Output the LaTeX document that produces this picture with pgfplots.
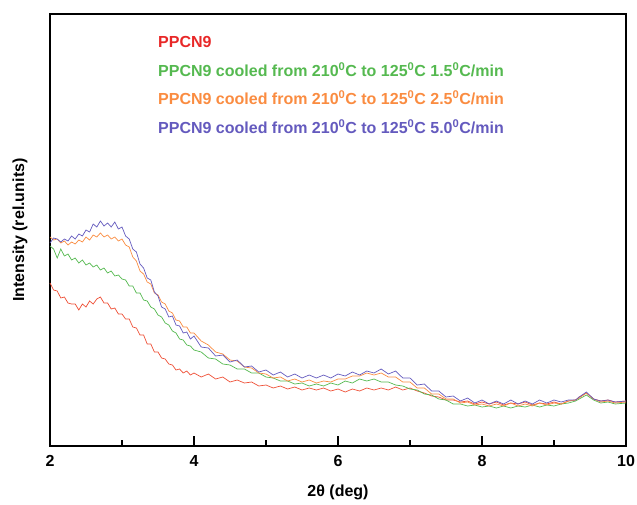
\documentclass[border=0pt]{standalone}
\usepackage{pgfplots}
\pgfplotsset{compat=1.18}
\usepackage{fontspec}
\setmainfont{Liberation Sans}
\usetikzlibrary{calc}

\definecolor{cRed}{RGB}{238,80,55}
\definecolor{tRed}{RGB}{232,40,40}
\definecolor{cGreen}{RGB}{85,185,80}
\definecolor{cOrange}{RGB}{250,140,65}
\definecolor{cBlue}{RGB}{100,90,190}

\begin{document}
\begin{tikzpicture}
\begin{axis}[
  name=ax,
  scale only axis,
  width=576pt, height=432pt,
  xmin=2, xmax=10, ymin=0, ymax=432,
  axis line style={line width=1.6pt},
  xtick={2,4,6,8,10},
  minor xtick={3,5,7,9},
  ytick=\empty,
  xtick pos=bottom,
  tick align=inside,
  major tick length=10pt,
  minor tick length=6pt,
  tick style={line width=1.4pt, black},
  /pgf/number format/assume math mode=true,
  ticklabel style={font=\bfseries\fontsize{16}{16}\selectfont},
  xticklabel style={yshift=-6pt},
  xlabel={2θ (deg)},
  ylabel={Intensity (rel.units)},
  label style={font=\bfseries\fontsize{16}{16}\selectfont},
  xlabel style={at={(axis description cs:0.5,0)}, anchor=center, yshift=-46pt},
  ylabel style={at={(axis description cs:-0.052,0.5)}, anchor=center},
  clip=false,
  every axis plot/.append style={line width=0.7pt},
]
% red: PPCN9
\addplot[color=cRed] coordinates {
(2.0,163)(2.05,156)(2.1,155)(2.15,148)(2.2,149)(2.25,143)(2.3,142)(2.35,142)(2.4,136)(2.45,142)(2.5,139)
(2.55,145)(2.6,142)(2.65,147)(2.7,149)(2.75,143)(2.8,143)(2.85,137)(2.9,138)(2.95,132)(3.0,132)
(3.05,127)(3.1,127)(3.15,119)(3.2,118)(3.25,111)(3.3,111)(3.35,102)(3.4,102)(3.45,94)(3.5,94)
(3.55,88)(3.6,87)(3.65,82)(3.7,81)(3.75,76)(3.8,77)(3.85,73)(3.9,75)(3.95,71)(4.0,73)
(4.1,69)(4.2,72)(4.3,67)(4.4,69)(4.5,64)(4.6,66)(4.7,63)(4.8,64)(4.9,60)(5.0,61)
(5.1,58)(5.2,60)(5.3,57)(5.4,59)(5.5,56)(5.6,58)(5.7,56)(5.8,58)(5.9,55)(6.0,57)
(6.1,54)(6.2,57)(6.3,55)(6.4,58)(6.5,56)(6.6,58)(6.7,56)(6.8,59)(6.9,56)(7.0,58)
(7.1,55)(7.2,53)(7.3,50)(7.4,49)(7.5,46)(7.6,46)(7.7,44)(7.8,45)(7.9,42)(8.0,44)
(8.1,42)(8.2,44)(8.3,41)(8.4,43)(8.5,42)(8.6,44)(8.7,41)(8.8,43)(8.9,42)(9.0,44)
(9.1,42)(9.2,45)(9.3,46)(9.35,49)(9.45,53)(9.55,47)(9.65,45)(9.75,46)(9.85,44)(10.0,45)
};
% green: 1.5 C/min
\addplot[color=cGreen] coordinates {
(2.0,200)(2.05,197)(2.1,188)(2.15,197)(2.2,190)(2.25,192)(2.3,186)(2.35,188)(2.4,183)(2.45,186)(2.5,181)
(2.55,183)(2.6,179)(2.65,181)(2.7,176)(2.75,178)(2.8,173)(2.85,175)(2.9,170)(2.95,171)(3.0,167)
(3.05,166)(3.1,160)(3.15,160)(3.2,153)(3.25,153)(3.3,146)(3.35,145)(3.4,139)(3.45,137)(3.5,131)
(3.55,129)(3.6,123)(3.65,121)(3.7,115)(3.75,113)(3.8,107)(3.85,106)(3.9,101)(3.95,100)(4.0,96)
(4.1,94)(4.2,88)(4.3,87)(4.4,82)(4.5,81)(4.6,77)(4.7,77)(4.8,73)(4.9,73)(5.0,69)
(5.1,68)(5.2,65)(5.3,65)(5.4,62)(5.5,63)(5.6,60)(5.7,62)(5.8,60)(5.9,63)(6.0,61)
(6.1,65)(6.2,63)(6.3,67)(6.4,65)(6.5,67)(6.6,64)(6.7,64)(6.8,61)(6.9,60)(7.0,57)
(7.1,56)(7.2,52)(7.3,51)(7.4,47)(7.5,46)(7.6,42)(7.7,42)(7.8,40)(7.9,41)(8.0,39)
(8.1,40)(8.2,38)(8.3,40)(8.4,38)(8.5,40)(8.6,39)(8.7,41)(8.8,39)(8.9,41)(9.0,40)
(9.1,42)(9.2,43)(9.3,45)(9.35,47)(9.45,51)(9.55,46)(9.65,43)(9.75,44)(9.85,42)(10.0,43)
};
% orange: 2.5 C/min
\addplot[color=cOrange] coordinates {
(2.0,209)(2.05,206)(2.1,207)(2.15,203)(2.2,205)(2.25,201)(2.3,204)(2.35,202)(2.4,206)(2.45,204)(2.5,209)
(2.55,206)(2.6,211)(2.65,209)(2.7,213)(2.75,209)(2.8,211)(2.85,207)(2.9,209)(2.95,205)(3.0,207)
(3.05,201)(3.1,199)(3.15,189)(3.2,185)(3.25,175)(3.3,172)(3.35,164)(3.4,162)(3.45,153)(3.5,151)
(3.55,144)(3.6,142)(3.65,135)(3.7,133)(3.75,126)(3.8,125)(3.85,119)(3.9,119)(3.95,113)(4.0,113)
(4.1,105)(4.2,101)(4.3,94)(4.4,92)(4.5,86)(4.6,85)(4.7,79)(4.8,78)(4.9,73)(5.0,72)
(5.1,68)(5.2,69)(5.3,65)(5.4,67)(5.5,64)(5.6,66)(5.7,63)(5.8,65)(5.9,64)(6.0,67)
(6.1,67)(6.2,70)(6.3,70)(6.4,73)(6.5,71)(6.6,73)(6.7,69)(6.8,69)(6.9,64)(7.0,64)
(7.1,58)(7.2,58)(7.3,52)(7.4,52)(7.5,47)(7.6,47)(7.7,43)(7.8,44)(7.9,41)(8.0,42)
(8.1,40)(8.2,42)(8.3,40)(8.4,43)(8.5,40)(8.6,42)(8.7,40)(8.8,43)(8.9,41)(9.0,43)
(9.1,42)(9.2,45)(9.3,46)(9.35,48)(9.45,53)(9.55,47)(9.65,44)(9.75,45)(9.85,43)(10.0,44)
};
% blue: 5.0 C/min
\addplot[color=cBlue] coordinates {
(2.0,203)(2.05,208)(2.1,207)(2.15,204)(2.2,207)(2.25,205)(2.3,210)(2.35,207)(2.4,212)(2.45,210)(2.5,216)
(2.55,214)(2.6,222)(2.65,219)(2.7,225)(2.75,220)(2.8,223)(2.85,219)(2.9,224)(2.95,217)(3.0,219)
(3.05,210)(3.1,207)(3.15,197)(3.2,194)(3.25,182)(3.3,178)(3.35,168)(3.4,166)(3.45,154)(3.5,150)
(3.55,139)(3.6,137)(3.65,129)(3.7,130)(3.75,121)(3.8,120)(3.85,113)(3.9,114)(3.95,107)(4.0,110)
(4.1,99)(4.2,98)(4.3,90)(4.4,91)(4.5,84)(4.6,86)(4.7,79)(4.8,80)(4.9,74)(5.0,76)
(5.1,71)(5.2,74)(5.3,69)(5.4,72)(5.5,68)(5.6,71)(5.7,68)(5.8,71)(5.9,68)(6.0,72)
(6.1,70)(6.2,74)(6.3,71)(6.4,75)(6.5,73)(6.6,77)(6.7,72)(6.8,75)(6.9,68)(7.0,68)
(7.1,61)(7.2,62)(7.3,55)(7.4,55)(7.5,49)(7.6,50)(7.7,45)(7.8,48)(7.9,43)(8.0,46)
(8.1,42)(8.2,45)(8.3,42)(8.4,46)(8.5,42)(8.6,45)(8.7,42)(8.8,46)(8.9,43)(9.0,46)
(9.1,44)(9.2,46)(9.3,46)(9.35,49)(9.45,54)(9.55,47)(9.65,45)(9.75,46)(9.85,44)(10.0,45)
};
\begin{scope}[every node/.style={anchor=west, inner sep=0pt, font=\bfseries\fontsize{16}{16}\selectfont}]
\node[text=tRed]    at (axis cs:3.5,404) {PPCN9};
\node[text=cGreen]  at (axis cs:3.5,376) {PPCN9 cooled from 210\textsuperscript{0}C to 125\textsuperscript{0}C 1.5\textsuperscript{0}C/min};
\node[text=cOrange] at (axis cs:3.5,348) {PPCN9 cooled from 210\textsuperscript{0}C to 125\textsuperscript{0}C 2.5\textsuperscript{0}C/min};
\node[text=cBlue]   at (axis cs:3.5,319) {PPCN9 cooled from 210\textsuperscript{0}C to 125\textsuperscript{0}C 5.0\textsuperscript{0}C/min};
\end{scope}
\end{axis}
\pgfresetboundingbox
\path ($(ax.south west)+(-50pt,-58pt)$) rectangle ($(ax.north east)+(11pt,14pt)$);
\end{tikzpicture}
\end{document}
